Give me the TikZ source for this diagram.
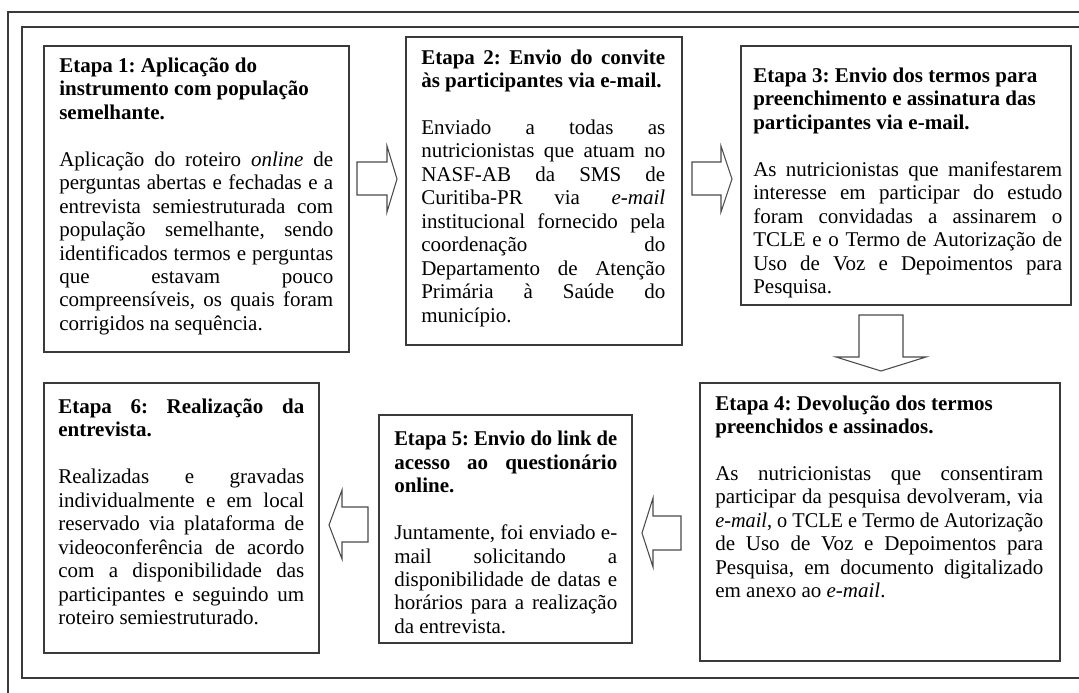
\documentclass[tikz,border=0pt]{standalone}
\usepackage{fontspec}
\setmainfont{Liberation Serif}
\usepackage{graphicx}
\usetikzlibrary{fit}
\definecolor{lin}{HTML}{3A3A3A}
\definecolor{arr}{HTML}{4A4A4A}
\newcommand\jline[1]{\setbox0=\hbox{#1}\ifdim\wd0>\hsize\hbox{\resizebox{\hsize}{\height}{\copy0}}\else\hbox to\hsize{#1}\fi}
\newcommand\rline[1]{\hbox{#1}}
\newcommand\skipline{\hbox{}}
\newcommand\tb[2]{\parbox[t]{#1}{\fontsize{15.75pt}{17.6pt}\selectfont\frenchspacing #2}}
\begin{document}
\begin{tikzpicture}[x=0.75pt,y=-0.75pt,
  frame/.style={draw=lin, line width=1pt},
  stepbox/.style={draw=lin, line width=1pt, inner sep=0pt},
  txt/.style={anchor=base west, inner sep=0pt, text=black},
  blockarrow/.style={draw=arr, line width=0.8pt, fill=white, line join=miter}]
\useasboundingbox (0,0) rectangle (1079,693);
\clip (0,0) rectangle (1079,693);
% frames
\draw[frame] (8,700) -- (8,12) -- (1090,12);
\draw[frame] (1090,678) -- (22,678) -- (22,27) -- (1090,27);
% boxes
\coordinate (p1a) at (44,46);   \coordinate (p1b) at (349,352);
\coordinate (p2a) at (406,37);  \coordinate (p2b) at (682,345);
\coordinate (p3a) at (741,46);  \coordinate (p3b) at (1071,305);
\coordinate (p4a) at (700,383); \coordinate (p4b) at (1060,661);
\coordinate (p5a) at (379,415); \coordinate (p5b) at (632,643);
\coordinate (p6a) at (44,383);  \coordinate (p6b) at (319,653);
\node[stepbox, fit=(p1a)(p1b)] (b1) {};
\node[stepbox, fit=(p2a)(p2b)] (b2) {};
\node[stepbox, fit=(p3a)(p3b)] (b3) {};
\node[stepbox, fit=(p4a)(p4b)] (b4) {};
\node[stepbox, fit=(p5a)(p5b)] (b5) {};
\node[stepbox, fit=(p6a)(p6b)] (b6) {};
% texts
\node[txt] (t1) at (59,72.3) {\tb{205.5pt}{%
\rline{\textbf{Etapa 1: Aplicação do}}
\rline{\textbf{instrumento com população}}
\rline{\textbf{semelhante.}}
\skipline
\jline{Aplicação do roteiro \textit{online} de}
\jline{perguntas abertas e fechadas e a}
\jline{entrevista semiestruturada com}
\jline{população semelhante, sendo}
\jline{identificados termos e perguntas}
\jline{que estavam pouco}
\jline{compreensíveis, os quais foram}
\rline{corrigidos na sequência.}}};
\node[txt] (t2) at (421,64) {\tb{183pt}{%
\jline{\textbf{Etapa 2: Envio do convite}}
\rline{\textbf{às participantes via e-mail.}}
\skipline
\jline{Enviado a todas as}
\jline{nutricionistas que atuam no}
\jline{NASF-AB da SMS de}
\jline{Curitiba-PR via \textit{e-mail}}
\jline{institucional fornecido pela}
\jline{coordenação do}
\jline{Departamento de Atenção}
\jline{Primária à Saúde do}
\rline{município.}}};
\node[txt] (t3) at (753,82.3) {\tb{231.75pt}{%
\rline{\textbf{Etapa 3: Envio dos termos para}}
\rline{\textbf{preenchimento e assinatura das}}
\rline{\textbf{participantes via e-mail.}}
\skipline
\jline{As nutricionistas que manifestarem}
\jline{interesse em participar do estudo}
\jline{foram convidadas a assinarem o}
\jline{TCLE e o Termo de Autorização de}
\jline{Uso de Voz e Depoimentos para}
\rline{Pesquisa.}}};
\node[txt] (t4) at (715,410) {\tb{246pt}{%
\rline{\textbf{Etapa 4: Devolução dos termos}}
\rline{\textbf{preenchidos e assinados.}}
\skipline
\jline{As nutricionistas que consentiram}
\jline{participar da pesquisa devolveram, via}
\jline{\textit{e-mail}, o TCLE e Termo de Autorização}
\jline{de Uso de Voz e Depoimentos para}
\jline{Pesquisa, em documento digitalizado}
\rline{em anexo ao \textit{e-mail}.}}};
\node[txt] (t5) at (394,445.7) {\tb{167.25pt}{%
\jline{\textbf{Etapa 5: Envio do link de}}
\jline{\textbf{acesso ao questionário}}
\rline{\textbf{online.}}
\skipline
\jline{Juntamente, foi enviado e-}
\jline{mail solicitando a}
\jline{disponibilidade de datas e}
\jline{horários para a realização}
\rline{da entrevista.}}};
\node[txt] (t6) at (58,413.3) {\tb{184.5pt}{%
\jline{\textbf{Etapa 6: Realização da}}
\rline{\textbf{entrevista.}}
\skipline
\jline{Realizadas e gravadas}
\jline{individualmente e em local}
\jline{reservado via plataforma de}
\jline{videoconferência de acordo}
\jline{com a disponibilidade das}
\jline{participantes e seguindo um}
\rline{roteiro semiestruturado.}}};
% block arrows between the steps
\draw[blockarrow] (357,162) -- (387,162) -- (387,146) -- (397,179) -- (387,212) -- (387,195) -- (357,195) -- cycle;
\draw[blockarrow] (692,162) -- (721,162) -- (721,146) -- (732,179) -- (721,212) -- (721,195) -- (692,195) -- cycle;
\draw[blockarrow] (859,315) -- (903,315) -- (903,357) -- (926,357) -- (881,371) -- (836,357) -- (859,357) -- cycle;
\draw[blockarrow] (681,516) -- (653,516) -- (653,498) -- (642,533) -- (653,567) -- (653,550) -- (681,550) -- cycle;
\draw[blockarrow] (368,507) -- (342,507) -- (342,490) -- (329,525) -- (342,559) -- (342,542) -- (368,542) -- cycle;
\end{tikzpicture}
\end{document}
